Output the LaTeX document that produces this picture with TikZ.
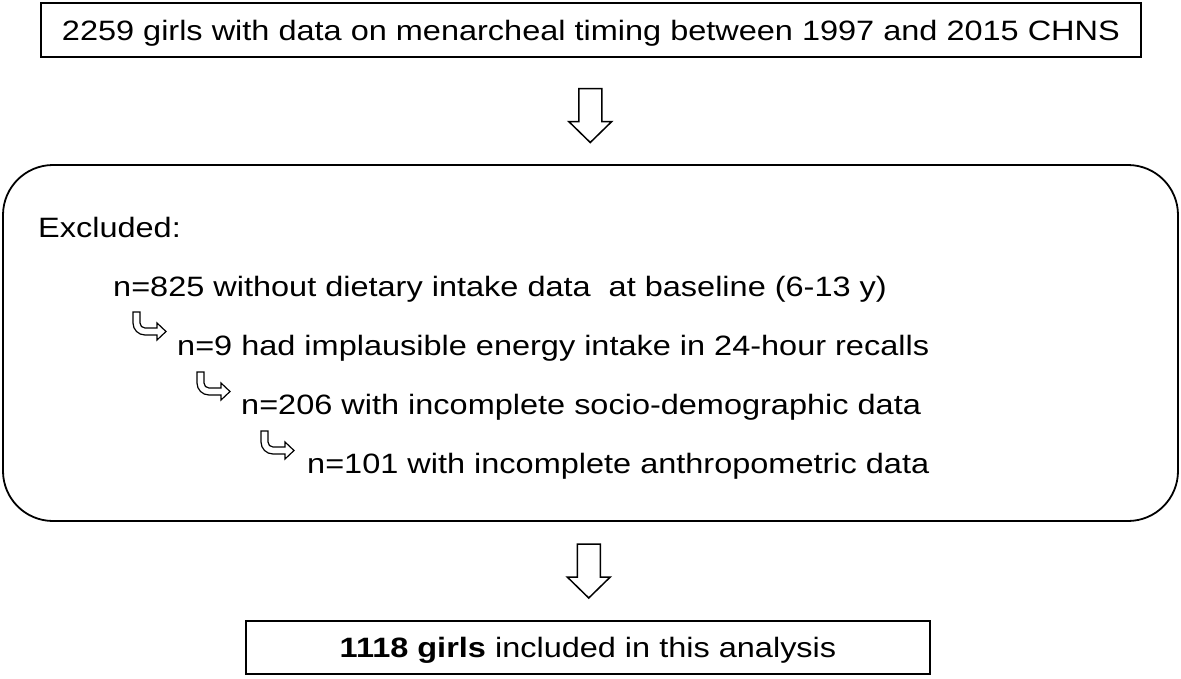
\documentclass[tikz,border=0pt]{standalone}
\usepackage{fontspec}
\setmainfont{Liberation Sans}[FakeStretch=1.16]
\usetikzlibrary{calc}
\tikzset{
  boxline/.style={draw=black, line width=1.8pt},
  flatbox/.style={boxline, rectangle, inner sep=0pt, text height=20pt, text depth=0pt},
  roundbox/.style={boxline, rectangle, rounded corners=50pt, inner sep=0pt},
  linetext/.style={anchor=base west, inner sep=0pt},
  arrowshape/.style={draw=black, line width=1.5pt, fill=white, line join=miter},
  hookshape/.style={draw=black, line width=1.2pt, fill=white, line join=miter},
  pics/downarrow/.style={code={
    \draw[arrowshape] (-11.5,-27) -- (11.5,-27) -- (11.5,6) -- (21.5,6) -- (0,27)
      -- (-21.5,6) -- (-11.5,6) -- cycle;
  }},
  pics/hookarrow/.style={code={
    \draw[hookshape] (0,0) -- (7,0) -- (7,11) .. controls (7,13.76) and (9.24,16) .. (12,16)
      -- (24,16) -- (24,11) -- (33,19.5) -- (24,28) -- (24,23) -- (12,23)
      .. controls (5.37,23) and (0,17.63) .. (0,11) -- cycle;
  }}
}
\begin{document}
\begin{tikzpicture}[x=1pt, y=-1pt, font=\fontsize{28}{34}\selectfont]
\useasboundingbox (0,0) rectangle (1181,678);
\fill[white] (0,0) rectangle (1181,678);

\node[flatbox, minimum width=1100pt, minimum height=54pt] (top) at (591,30)
  {2259 girls with data on menarcheal timing between 1997 and 2015 CHNS};

\node[roundbox, minimum width=1175pt, minimum height=356pt] (excl) at (590.5,343) {};

\node[flatbox, minimum width=684pt, minimum height=53pt] (final) at (588,647.5)
  {\textbf{1118 girls} included in this analysis};

\pic at ($(top.south)!0.5!(excl.north)+(-0.5,4.5)$) {downarrow};
\pic at ($(excl.south)!0.5!(final.north)+(-0.5,0)$) {downarrow};

\node[linetext] (ex) at (38,237) {Excluded:};
\node[linetext] (l1) at (113,296) {n=825 without dietary intake data \ at baseline (6-13 y)};
\node[linetext] (l2) at (177,355) {n=9 had implausible energy intake in 24-hour recalls};
\node[linetext] (l3) at (241,414) {n=206 with incomplete socio-demographic data};
\node[linetext] (l4) at (307,473) {n=101 with incomplete anthropometric data};

\pic at ($(l1.base west)+(20,16)$) {hookarrow};
\pic at ($(l2.base west)+(20,17)$) {hookarrow};
\pic at ($(l3.base west)+(20,17)$) {hookarrow};
\end{tikzpicture}
\end{document}
